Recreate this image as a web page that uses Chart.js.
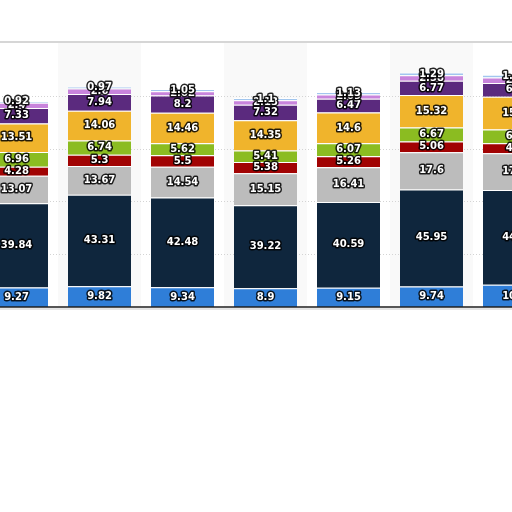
<!DOCTYPE html>
<html>
<head>
<meta charset="utf-8">
<script src="https://cdn.jsdelivr.net/npm/chart.js@4/dist/chart.umd.min.js"></script>
<style>
  html, body { margin:0; padding:0; background:#fff; overflow:hidden; width:512px; height:512px; }
  #wrap { position:absolute; left:-25px; top:0; width:581px; height:512px; }
</style>
</head>
<body>
<div id="wrap"><canvas id="c"></canvas></div>
<script>
const categories = ['C1','C2','C3','C4','C5','C6','C7'];
const seriesBlue      = [9.27, 9.82, 9.34, 8.9, 9.15, 9.74, 10.5];
const seriesNavy      = [39.84, 43.31, 42.48, 39.22, 40.59, 45.95, 44.9];
const seriesGray      = [13.07, 13.67, 14.54, 15.15, 16.41, 17.6, 17.4];
const seriesRed       = [4.28, 5.3, 5.5, 5.38, 5.26, 5.06, 4.7];
const seriesGreen     = [6.96, 6.74, 5.62, 5.41, 6.07, 6.67, 6.5];
const seriesOrange    = [13.51, 14.06, 14.46, 14.35, 14.6, 15.32, 15.5];
const seriesPurple    = [7.33, 7.94, 8.2, 7.32, 6.47, 6.77, 6.6];
const seriesPink      = [2.4, 2.6, 2.02, 2.13, 2.09, 2.58, 2.6];
const seriesLightBlue = [0.92, 0.97, 1.05, 1.1, 1.13, 1.29, 1.25];
const yTicks = [25, 50, 75, 100];
const yMax = 125;

const seriesList = [
  ['S1', seriesBlue, '#2f7ed8'],
  ['S2', seriesNavy, '#0f263d'],
  ['S3', seriesGray, '#bcbcbc'],
  ['S4', seriesRed, '#a10303'],
  ['S5', seriesGreen, '#8bbc21'],
  ['S6', seriesOrange, '#f0b42c'],
  ['S7', seriesPurple, '#5b2a7e'],
  ['S8', seriesPink, '#c884dc'],
  ['S9', seriesLightBlue, '#a2c6ee']
];

const decor = {
  id: 'decor',
  beforeDatasetsDraw(chart) {
    const {ctx, chartArea:a, scales:{x, y}} = chart;
    ctx.save();
    const half = (x.getPixelForValue(1) - x.getPixelForValue(0)) / 2;
    ctx.fillStyle = '#f9f9f9';
    categories.forEach((c, i) => {
      if (i % 2 === 1) {
        const cx = x.getPixelForValue(i);
        ctx.fillRect(cx - half, a.top, half * 2, a.bottom - a.top);
      }
    });
    ctx.strokeStyle = '#d4d4d4';
    ctx.lineWidth = 1;
    ctx.setLineDash([1, 2]);
    yTicks.forEach(v => {
      const py = Math.round(y.getPixelForValue(v)) + 0.5;
      ctx.beginPath(); ctx.moveTo(a.left, py); ctx.lineTo(a.right, py); ctx.stroke();
    });
    ctx.setLineDash([]);
    ctx.strokeStyle = '#c8c8c8';
    ctx.lineWidth = 1.5;
    ctx.beginPath(); ctx.moveTo(a.left, a.top - 1); ctx.lineTo(a.right, a.top - 1); ctx.stroke();
    ctx.restore();
  },
  afterDatasetsDraw(chart) {
    const {ctx, chartArea:a, scales:{x, y}} = chart;
    ctx.save();
    const py0 = y.getPixelForValue(0);
    ctx.strokeStyle = '#1e1e1e';
    ctx.lineWidth = 1.5;
    ctx.beginPath(); ctx.moveTo(a.left, py0); ctx.lineTo(a.right, py0); ctx.stroke();
    ctx.strokeStyle = '#dcdcdc';
    ctx.lineWidth = 1.5;
    ctx.beginPath(); ctx.moveTo(a.left, py0 + 2); ctx.lineTo(a.right, py0 + 2); ctx.stroke();

    ctx.font = 'bold 10px "DejaVu Sans"';
    ctx.textAlign = 'center';
    ctx.textBaseline = 'middle';
    ctx.lineJoin = 'round';
    chart.data.datasets.forEach((ds, di) => {
      const meta = chart.getDatasetMeta(di);
      meta.data.forEach((bar, i) => {
        const v = ds.data[i];
        const cy = (bar.y + bar.base) / 2;
        const t = String(v);
        ctx.strokeStyle = 'rgba(0,0,0,0.85)';
        ctx.lineWidth = 3;
        ctx.strokeText(t, bar.x, cy);
        ctx.fillStyle = '#ffffff';
        ctx.fillText(t, bar.x, cy);
      });
    });
    ctx.restore();
  }
};

new Chart(document.getElementById('c'), {
  type: 'bar',
  data: {
    labels: categories,
    datasets: seriesList.map(([name, data, color]) => ({
      label: name,
      data: data,
      backgroundColor: color,
      borderColor: '#ffffff',
      borderWidth: {top: 1, left: 0, right: 0, bottom: 0},
      borderSkipped: false,
      categoryPercentage: 1,
      barPercentage: 0.76
    }))
  },
  options: {
    responsive: true,
    maintainAspectRatio: false,
    animation: false,
    devicePixelRatio: 1,
    layout: { padding: { top: 43, bottom: 205, left: 0, right: 0 } },
    plugins: { legend: { display: false }, tooltip: { enabled: false } },
    scales: {
      x: { stacked: true, display: false },
      y: { stacked: true, display: false, min: 0, max: yMax }
    }
  },
  plugins: [decor]
});
</script>
</body>
</html>
